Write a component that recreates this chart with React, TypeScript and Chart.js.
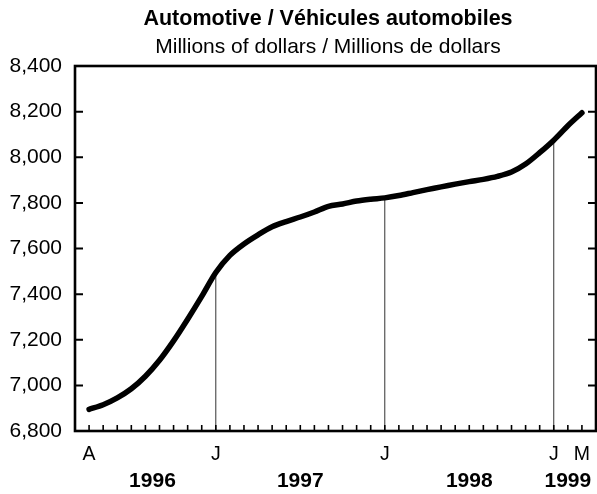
import React, { useEffect, useRef } from 'react';
import { Chart, registerables } from 'chart.js';

Chart.register(...registerables);

// Monthly data, April 1996 to March 1999
const months: string[] = [
  '1996-04', '1996-05', '1996-06', '1996-07', '1996-08', '1996-09', '1996-10', '1996-11', '1996-12',
  '1997-01', '1997-02', '1997-03', '1997-04', '1997-05', '1997-06', '1997-07', '1997-08', '1997-09',
  '1997-10', '1997-11', '1997-12', '1998-01', '1998-02', '1998-03', '1998-04', '1998-05', '1998-06',
  '1998-07', '1998-08', '1998-09', '1998-10', '1998-11', '1998-12', '1999-01', '1999-02', '1999-03',
];

const values: number[] = [
  6895, 6915, 6945, 6985, 7040, 7110, 7195, 7290, 7390,
  7495, 7570, 7620, 7660, 7695, 7718, 7738, 7760, 7785,
  7795, 7808, 7816, 7822, 7832, 7845, 7858, 7870, 7882,
  7893, 7903, 7916, 7935, 7970, 8020, 8075, 8138, 8195,
];

// Letters shown under the month ticks (blank where none)
const monthLetters: string[] = [
  'A', '', '', '', '', '', '', '', '',
  'J', '', '', '', '', '', '', '', '',
  '', '', '', 'J', '', '', '', '', '',
  '', '', '', '', '', '', 'J', '', 'M',
];

const yearLabels: string[] = ['1996', '1997', '1998', '1999'];

const yMin = 6800;
const yMax = 8400;
const yStep = 200;

const titleText = 'Automotive / Véhicules automobiles';
const subtitleText = 'Millions of dollars / Millions de dollars';

const FONT = "'Liberation Sans', Arial, Helvetica, sans-serif";

// Derived: January positions and year label centres (midway between year boundaries)
const janIdx: number[] = months.map((m, i) => (m.endsWith('-01') ? i : -1)).filter((i) => i >= 0);
const yearCenters: number[] = yearLabels.map((yr) => {
  const first = months.findIndex((m) => m.startsWith(yr));
  const nextFirst = months.findIndex((m) => m.startsWith(String(Number(yr) + 1)));
  const end = nextFirst >= 0 ? nextFirst : months.length - 1;
  return (first + end) / 2;
});

const framePlugin = {
  id: 'frameTicks',
  afterLayout(chart: any) {
    // centre the title block a little to the right, as in the original
    chart.boxes.forEach((b: any) => {
      const t = b && b.options && b.options.text;
      if (t === titleText || t === subtitleText) {
        b.left = 60;
        b.right = 596;
        b.width = 536;
      }
    });
  },
  afterDatasetsDraw(chart: any) {
    const { ctx, chartArea, scales } = chart;
    const { left, right, top, bottom } = chartArea;
    const x = scales.x;
    const y = scales.y;
    ctx.save();
    ctx.strokeStyle = '#000';
    ctx.lineCap = 'butt';
    // y ticks (inward, both sides)
    ctx.lineWidth = 2;
    y.ticks.forEach((t: any) => {
      const py = y.getPixelForValue(t.value);
      ctx.beginPath();
      ctx.moveTo(left, py);
      ctx.lineTo(left + 8, py);
      ctx.moveTo(right - 8, py);
      ctx.lineTo(right, py);
      ctx.stroke();
    });
    // x ticks (inward) every month
    ctx.lineWidth = 1.6;
    months.forEach((_, i) => {
      const px = x.getPixelForValue(i);
      ctx.beginPath();
      ctx.moveTo(px, bottom);
      ctx.lineTo(px, bottom - 6);
      ctx.stroke();
    });
    // frame
    ctx.lineWidth = 2.6;
    ctx.strokeRect(left, top, right - left, bottom - top);
    ctx.restore();
  },
};

const noPad = (scale: any) => {
  scale.paddingLeft = 0;
  scale.paddingRight = 0;
  scale.paddingTop = 0;
  scale.paddingBottom = 0;
};

export default function App() {
  const canvasRef = useRef<HTMLCanvasElement | null>(null);

  useEffect(() => {
    if (!canvasRef.current) return;
    const mainData = values.map((v, i) => ({ x: i, y: v }));
    const janSets = janIdx.map((i) => ({
      type: 'line' as const,
      data: [
        { x: i, y: yMin },
        { x: i, y: values[i] },
      ],
      borderColor: '#333',
      borderWidth: 1,
      pointRadius: 0,
      fill: false,
    }));
    const chart = new Chart(canvasRef.current, {
      type: 'line',
      data: {
        datasets: [
          {
            data: mainData,
            borderColor: '#000',
            borderWidth: 5.5,
            pointRadius: 0,
            tension: 0.3,
            borderCapStyle: 'round',
            borderJoinStyle: 'round',
            fill: false,
          } as any,
          ...janSets,
        ],
      },
      options: {
        responsive: false,
        animation: false,
        devicePixelRatio: 1,
        layout: { padding: { left: 0, right: 1, top: 0, bottom: 0 } },
        plugins: {
          legend: { display: false },
          tooltip: { enabled: false },
          title: {
            display: true,
            text: titleText,
            color: '#000',
            font: { family: FONT, size: 21.5, weight: 'bold' },
            padding: { top: 6, bottom: 3 },
          },
          subtitle: {
            display: true,
            text: subtitleText,
            color: '#000',
            font: { family: FONT, size: 21, weight: 'normal' },
            padding: { top: 0, bottom: 6 },
          },
        },
        scales: {
          x: {
            type: 'linear',
            position: 'bottom',
            min: -1,
            max: months.length,
            grid: { display: false, drawTicks: false },
            border: { display: false },
            afterFit: (scale: any) => {
              scale.height = 33;
              noPad(scale);
            },
            ticks: {
              stepSize: 1,
              autoSkip: false,
              maxRotation: 0,
              padding: 12,
              color: '#000',
              font: { family: FONT, size: 19.5 },
              callback: (v: any) => monthLetters[Number(v)] ?? '',
            },
          },
          x2: {
            type: 'linear',
            position: 'bottom',
            min: -1,
            max: months.length,
            grid: { display: false, drawTicks: false },
            border: { display: false },
            afterBuildTicks: (scale: any) => {
              scale.ticks = yearCenters.map((c) => ({ value: c }));
            },
            afterFit: (scale: any) => {
              scale.height = 30;
              noPad(scale);
            },
            ticks: {
              autoSkip: false,
              maxRotation: 0,
              padding: 4.5,
              color: '#000',
              font: { family: FONT, size: 21, weight: 'bold' },
              callback: (_v: any, idx: number) => yearLabels[idx] ?? '',
            },
          },
          y: {
            type: 'linear',
            min: yMin,
            max: yMax,
            grid: { display: false, drawTicks: false },
            border: { display: false },
            afterFit: (scale: any) => {
              scale.width = 75;
              noPad(scale);
            },
            ticks: {
              stepSize: yStep,
              padding: 13,
              color: '#000',
              font: { family: FONT, size: 21 },
              callback: (v: any) => Number(v).toLocaleString('en-US'),
            },
          },
        },
      },
      plugins: [framePlugin],
    });
    return () => chart.destroy();
  }, []);

  return (
    <div style={{ position: 'fixed', left: 0, top: 0, width: 597, height: 494, background: '#fff' }}>
      <canvas ref={canvasRef} width={597} height={494} />
    </div>
  );
}
